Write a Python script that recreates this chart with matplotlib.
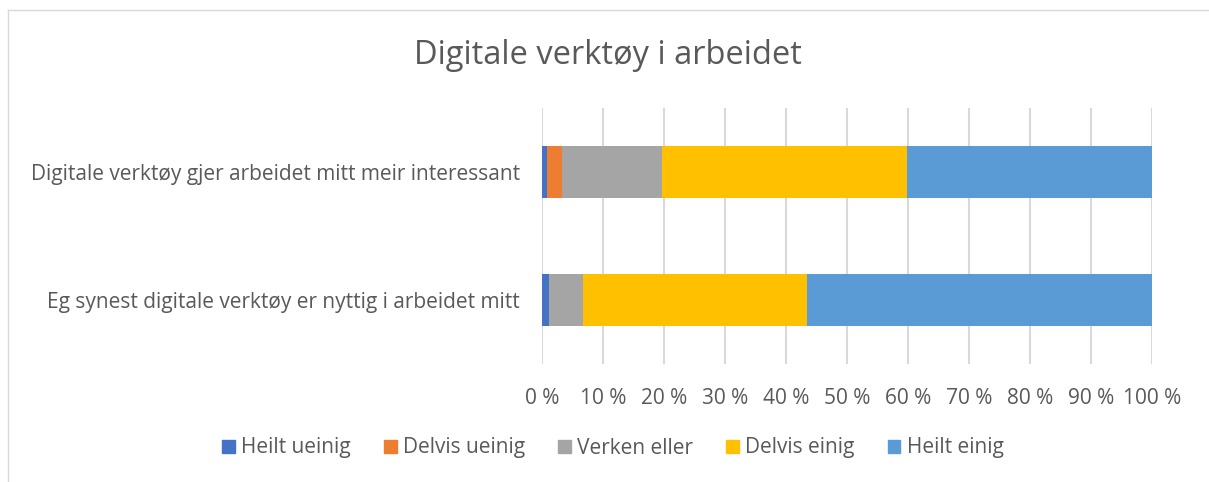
import matplotlib
matplotlib.use("Agg")
import matplotlib.pyplot as plt
import numpy as np
from matplotlib.patches import Rectangle
from matplotlib.lines import Line2D

categories = ["Eg synest digitale verktøy er nyttig i arbeidet mitt",
              "Digitale verktøy gjer arbeidet mitt meir interessant"]
series = ["Heilt ueinig", "Delvis ueinig", "Verken eller", "Delvis einig", "Heilt einig"]
values = {
    "Heilt ueinig": [1.2, 0.9],
    "Delvis ueinig": [0.0, 2.4],
    "Verken eller": [5.6, 16.4],
    "Delvis einig": [36.7, 40.2],
    "Heilt einig": [56.5, 40.1],
}
colors = ["#4472C4", "#ED7D31", "#A5A5A5", "#FFC000", "#5B9BD5"]
xticks = list(range(0, 101, 10))
xticklabels = [f"{t} %" for t in xticks]
title = "Digitale verktøy i arbeidet"

plt.rcParams['font.family'] = ['Open Sans', 'DejaVu Sans']
txtc = "#595959"

fig = plt.figure(figsize=(12.09, 4.82), dpi=100)
W, H = 1209, 482
ax = fig.add_axes([542 / W, 1 - 364 / H, 610 / W, 256 / H])

y = np.arange(len(categories))
left = np.zeros(len(categories))
for s, c in zip(series, colors):
    v = np.array(values[s])
    ax.barh(y, v, left=left, height=0.406, color=c, label=s, zorder=3)
    left += v

ax.set_xlim(0, 100)
ax.set_ylim(-0.5, 1.5)
ax.set_xticks(xticks)
ax.set_xticklabels(xticklabels, fontsize=15, color=txtc)
ax.set_yticks(y)
ax.set_yticklabels(categories, fontsize=15, color=txtc)
ax.tick_params(axis='both', length=0)
ax.tick_params(axis='x', pad=17)
ax.tick_params(axis='y', pad=16)
ax.grid(axis='x', color="#d9d9d9", linewidth=1.5, zorder=0)
for sp in ax.spines.values():
    sp.set_visible(False)

fig.text(608 / W, 1 - 56 / H, title, ha='center', va='center', fontsize=23.5, color=txtc)

handles = [Rectangle((0, 0), 1, 1, color=c) for c in colors]
fig.legend(handles, series, loc='center', bbox_to_anchor=(613 / W, 1 - 448 / H), ncol=5,
           frameon=False, fontsize=15, labelcolor=txtc, handlelength=0.6, handleheight=0.6,
           handletextpad=0.3, columnspacing=1.6)

fig.add_artist(Line2D([7.5 / W, 7.5 / W], [0, 1 - 9.5 / H], color="#d9d9d9", lw=1))
fig.add_artist(Line2D([7.5 / W, 1], [1 - 9.5 / H, 1 - 9.5 / H], color="#d9d9d9", lw=1))

fig.savefig("out.png", dpi=100)
